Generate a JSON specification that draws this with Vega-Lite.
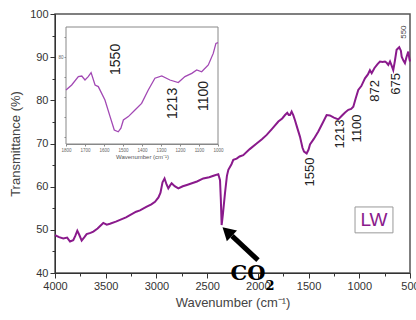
{
  "$schema": "https://vega.github.io/schema/vega-lite/v6.json",
  "width": 355,
  "height": 259,
  "autosize": "none",
  "padding": {"left": 55, "top": 14, "right": 6, "bottom": 47},
  "background": "white",
  "config": {
    "view": {"stroke": "#555", "strokeWidth": 1.5},
    "axis": {
      "labelFont": "Liberation Sans", "titleFont": "Liberation Sans", "grid": false,
      "domainColor": "#333", "tickColor": "#333", "labelColor": "#333", "titleColor": "#444",
      "titleFontWeight": "normal", "labelOverlap": false, "labelFlush": false
    },
    "text": {"font": "Liberation Sans"}
  },
  "datasets": {
    "main": [
      {"wn": 4000, "T": 48.8}, {"wn": 3960, "T": 48.3}, {"wn": 3918, "T": 48.0}, {"wn": 3880, "T": 48.2},
      {"wn": 3852, "T": 47.3}, {"wn": 3820, "T": 47.6}, {"wn": 3800, "T": 48.6}, {"wn": 3780, "T": 49.8},
      {"wn": 3760, "T": 48.8}, {"wn": 3737, "T": 47.5}, {"wn": 3710, "T": 48.3}, {"wn": 3688, "T": 49.0},
      {"wn": 3650, "T": 49.3}, {"wn": 3622, "T": 49.6}, {"wn": 3580, "T": 50.3}, {"wn": 3524, "T": 51.6},
      {"wn": 3490, "T": 51.2}, {"wn": 3458, "T": 51.4}, {"wn": 3400, "T": 51.9}, {"wn": 3359, "T": 52.3},
      {"wn": 3300, "T": 52.9}, {"wn": 3261, "T": 53.4}, {"wn": 3200, "T": 54.2}, {"wn": 3162, "T": 54.5},
      {"wn": 3100, "T": 55.3}, {"wn": 3050, "T": 55.9}, {"wn": 3014, "T": 56.5}, {"wn": 2980, "T": 57.5},
      {"wn": 2960, "T": 58.6}, {"wn": 2940, "T": 61.0}, {"wn": 2920, "T": 61.9}, {"wn": 2900, "T": 60.5},
      {"wn": 2883, "T": 59.6}, {"wn": 2865, "T": 60.3}, {"wn": 2850, "T": 60.8}, {"wn": 2820, "T": 60.1},
      {"wn": 2784, "T": 59.6}, {"wn": 2740, "T": 60.1}, {"wn": 2700, "T": 60.4}, {"wn": 2636, "T": 60.9},
      {"wn": 2600, "T": 61.2}, {"wn": 2538, "T": 61.9}, {"wn": 2480, "T": 62.2}, {"wn": 2430, "T": 62.6},
      {"wn": 2390, "T": 62.9}, {"wn": 2373, "T": 61.5}, {"wn": 2365, "T": 57.0}, {"wn": 2357, "T": 51.1},
      {"wn": 2345, "T": 53.5}, {"wn": 2324, "T": 58.5}, {"wn": 2305, "T": 62.5}, {"wn": 2291, "T": 63.9},
      {"wn": 2260, "T": 65.2}, {"wn": 2242, "T": 66.2}, {"wn": 2209, "T": 66.5}, {"wn": 2180, "T": 67.0},
      {"wn": 2144, "T": 67.3}, {"wn": 2080, "T": 68.7}, {"wn": 2012, "T": 70.0}, {"wn": 1960, "T": 71.0},
      {"wn": 1913, "T": 72.0}, {"wn": 1860, "T": 73.4}, {"wn": 1798, "T": 75.1}, {"wn": 1760, "T": 75.8},
      {"wn": 1732, "T": 76.6}, {"wn": 1710, "T": 77.1}, {"wn": 1695, "T": 76.6}, {"wn": 1683, "T": 76.6},
      {"wn": 1667, "T": 77.4}, {"wn": 1650, "T": 76.5}, {"wn": 1634, "T": 75.4}, {"wn": 1610, "T": 73.5},
      {"wn": 1585, "T": 71.6}, {"wn": 1560, "T": 69.0}, {"wn": 1545, "T": 68.1}, {"wn": 1519, "T": 67.7},
      {"wn": 1500, "T": 68.6}, {"wn": 1486, "T": 69.8}, {"wn": 1450, "T": 71.0}, {"wn": 1404, "T": 72.8},
      {"wn": 1360, "T": 74.8}, {"wn": 1322, "T": 76.6}, {"wn": 1290, "T": 76.5}, {"wn": 1250, "T": 76.0},
      {"wn": 1207, "T": 75.6}, {"wn": 1170, "T": 76.5}, {"wn": 1140, "T": 77.2}, {"wn": 1108, "T": 77.8},
      {"wn": 1080, "T": 78.0}, {"wn": 1059, "T": 78.5}, {"wn": 1035, "T": 80.5}, {"wn": 1010, "T": 82.4},
      {"wn": 980, "T": 83.3}, {"wn": 944, "T": 85.1}, {"wn": 915, "T": 86.0}, {"wn": 895, "T": 87.0},
      {"wn": 878, "T": 86.3}, {"wn": 850, "T": 87.5}, {"wn": 820, "T": 88.4}, {"wn": 796, "T": 89.0},
      {"wn": 770, "T": 88.9}, {"wn": 747, "T": 89.0}, {"wn": 730, "T": 88.7}, {"wn": 714, "T": 88.2},
      {"wn": 697, "T": 89.0}, {"wn": 680, "T": 88.0}, {"wn": 665, "T": 87.0}, {"wn": 650, "T": 89.0},
      {"wn": 632, "T": 91.7}, {"wn": 606, "T": 92.3}, {"wn": 590, "T": 91.5}, {"wn": 582, "T": 90.1},
      {"wn": 565, "T": 89.2}, {"wn": 550, "T": 88.6}, {"wn": 535, "T": 90.0}, {"wn": 517, "T": 91.3},
      {"wn": 505, "T": 89.5}, {"wn": 500, "T": 89.0}
    ],
    "mainLabels": [
      {"wn": 1490, "T": 63.4, "label": "1550"},
      {"wn": 1190, "T": 72.2, "label": "1213"},
      {"wn": 1018, "T": 73.5, "label": "1100"},
      {"wn": 845, "T": 82.2, "label": "872"},
      {"wn": 638, "T": 83.8, "label": "675"}
    ],
    "small": [{"wn": 560, "T": 95.8, "label": "550"}],
    "lwBox": [{"wn": 1042, "wn2": 668, "T": 55.3, "T2": 49.3}],
    "lwText": [{"wn": 855, "T": 52.3, "label": "LW"}],
    "arrow": [{"wn": 1999, "T": 43.0, "wn2": 2255, "T2": 48.6}],
    "arrowHead": [{"wn": 2302, "T": 49.6}],
    "co": [{"wn": 2097, "T": 39.8, "label": "CO"}],
    "two": [{"wn": 1880, "T": 37.0, "label": "2"}],
    "inset": [
      {"iwn": 1800, "iu": 71.75}, {"iwn": 1770, "iu": 73.0}, {"iwn": 1735, "iu": 75.1}, {"iwn": 1717, "iu": 75.25},
      {"iwn": 1700, "iu": 74.25}, {"iwn": 1683, "iu": 75.1}, {"iwn": 1668, "iu": 76.1}, {"iwn": 1647, "iu": 73.0},
      {"iwn": 1630, "iu": 72.6}, {"iwn": 1595, "iu": 69.25}, {"iwn": 1568, "iu": 65.1}, {"iwn": 1546, "iu": 61.75},
      {"iwn": 1525, "iu": 61.3}, {"iwn": 1511, "iu": 62.2}, {"iwn": 1498, "iu": 64.25}, {"iwn": 1472, "iu": 65.1},
      {"iwn": 1437, "iu": 66.75}, {"iwn": 1402, "iu": 68.4}, {"iwn": 1367, "iu": 71.75}, {"iwn": 1332, "iu": 74.7},
      {"iwn": 1296, "iu": 75.25}, {"iwn": 1253, "iu": 74.25}, {"iwn": 1209, "iu": 73.6}, {"iwn": 1174, "iu": 75.1},
      {"iwn": 1138, "iu": 75.9}, {"iwn": 1112, "iu": 76.75}, {"iwn": 1086, "iu": 76.3}, {"iwn": 1051, "iu": 78.0},
      {"iwn": 1025, "iu": 80.9}, {"iwn": 1011, "iu": 83.4}, {"iwn": 1000, "iu": 83.6}
    ],
    "insetLabels": [
      {"iwn": 1537, "iu": 79.4, "label": "1550"},
      {"iwn": 1239, "iu": 68.4, "label": "1213"},
      {"iwn": 1076, "iu": 70.25, "label": "1100"}
    ],
    "insetBox": [{"iwn": 1800, "iwn2": 1000, "iu": 58.25, "iu2": 87.5}]
  },
  "layer": [
    {
      "encoding": {
        "x": {
          "field": "wn", "type": "quantitative",
          "scale": {"domain": [500, 4000], "reverse": true, "nice": false, "zero": false},
          "axis": {
            "title": "Wavenumber (cm⁻¹)", "orient": "bottom",
            "values": [500, 750, 1000, 1250, 1500, 1750, 2000, 2250, 2500, 2750, 3000, 3250, 3500, 3750, 4000],
            "labelExpr": "datum.value % 500 === 0 ? datum.label : ''",
            "format": "d",
            "tickSize": {"condition": {"test": "datum.value % 500 === 0", "value": 5}, "value": 3},
            "labelFontSize": 11, "titleFontSize": 13, "titlePadding": 5, "labelPadding": 2
          }
        },
        "y": {
          "field": "T", "type": "quantitative",
          "scale": {"domain": [40, 100], "nice": false, "zero": false},
          "axis": {
            "title": "Transmittance (%)", "orient": "left",
            "values": [40, 45, 50, 55, 60, 65, 70, 75, 80, 85, 90, 95, 100],
            "labelExpr": "datum.value % 10 === 0 ? datum.label : ''",
            "tickSize": {"condition": {"test": "datum.value % 10 === 0", "value": 5}, "value": 3},
            "labelFontSize": 11, "titleFontSize": 13, "titlePadding": 7, "labelPadding": 2
          }
        }
      },
      "layer": [
        {"data": {"name": "main"}, "mark": {"type": "line", "color": "#8a1a8c", "strokeWidth": 2}},
        {"data": {"name": "mainLabels"}, "mark": {"type": "text", "angle": 270, "fontSize": 13, "color": "#222", "align": "center", "baseline": "middle"}, "encoding": {"text": {"field": "label"}}},
        {"data": {"name": "small"}, "mark": {"type": "text", "angle": 270, "fontSize": 8, "color": "#444", "align": "center", "baseline": "middle"}, "encoding": {"text": {"field": "label"}}},
        {"data": {"name": "lwBox"}, "mark": {"type": "rect", "fill": "white", "stroke": "#999", "strokeWidth": 1}, "encoding": {"x2": {"field": "wn2"}, "y2": {"field": "T2"}}},
        {"data": {"name": "lwText"}, "mark": {"type": "text", "fontSize": 19, "color": "#8a1a8c", "align": "center", "baseline": "middle"}, "encoding": {"text": {"field": "label"}}},
        {"data": {"name": "arrow"}, "mark": {"type": "rule", "color": "black", "strokeWidth": 5}, "encoding": {"x2": {"field": "wn2"}, "y2": {"field": "T2"}}},
        {"data": {"name": "arrowHead"}, "mark": {"type": "point", "shape": "triangle-up", "filled": true, "color": "black", "opacity": 1, "size": 220, "angle": 313}},
        {"data": {"name": "co"}, "mark": {"type": "text", "font": "DejaVu Serif", "fontWeight": "bold", "fontSize": 21, "color": "black", "align": "center", "baseline": "middle"}, "encoding": {"text": {"field": "label"}}},
        {"data": {"name": "two"}, "mark": {"type": "text", "font": "DejaVu Serif", "fontWeight": "bold", "fontSize": 13, "color": "black", "align": "center", "baseline": "middle"}, "encoding": {"text": {"field": "label"}}}
      ]
    },
    {
      "encoding": {
        "x": {
          "field": "iwn", "type": "quantitative",
          "scale": {"domain": [1000, 1800], "range": [163, 11], "nice": false, "zero": false},
          "axis": {
            "title": "Wavenumber (cm⁻¹)", "orient": "bottom", "offset": -129,
            "values": [1000, 1100, 1200, 1300, 1400, 1500, 1600, 1700, 1800],
            "format": "d",
            "labelFontSize": 4.5, "titleFontSize": 6, "tickSize": 2, "labelPadding": 1, "titlePadding": 2,
            "domainColor": "#888", "tickColor": "#888", "labelColor": "#666", "titleColor": "#555"
          }
        },
        "y": {
          "field": "iu", "type": "quantitative",
          "scale": {"domain": [58.25, 87.5], "range": [130, 13], "nice": false, "zero": false},
          "axis": {
            "title": null, "orient": "left", "offset": -11,
            "values": [60, 65, 70, 75, 80, 85],
            "labelExpr": "datum.value === 80 ? '80' : ''",
            "labelFontSize": 4.5, "tickSize": 2, "labelPadding": 1,
            "domainColor": "#888", "tickColor": "#888", "labelColor": "#666"
          }
        }
      },
      "layer": [
        {"data": {"name": "insetBox"}, "mark": {"type": "rect", "fill": "white", "stroke": "#888", "strokeWidth": 1}, "encoding": {"x2": {"field": "iwn2"}, "y2": {"field": "iu2"}}},
        {"data": {"name": "inset"}, "mark": {"type": "line", "color": "#a248b4", "strokeWidth": 1.3}},
        {"data": {"name": "insetLabels"}, "mark": {"type": "text", "angle": 270, "fontSize": 14, "color": "#222", "align": "center", "baseline": "middle"}, "encoding": {"text": {"field": "label"}}}
      ]
    }
  ],
  "resolve": {
    "scale": {"x": "independent", "y": "independent"},
    "axis": {"x": "independent", "y": "independent"}
  }
}
